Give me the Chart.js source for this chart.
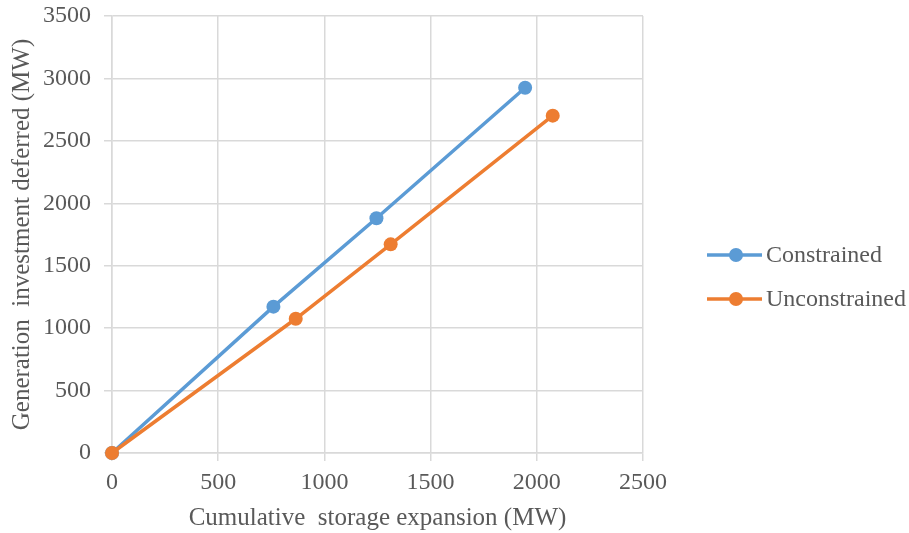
<!DOCTYPE html>
<html>
<head>
<meta charset="utf-8">
<script src="https://cdn.jsdelivr.net/npm/chart.js@4"></script>
<style>
    html, body { margin: 0; padding: 0; background: #fff; }
    #wrap { width: 909px; height: 533px; }
</style>
</head>
<body>
<div id="wrap"><canvas id="myChart" width="909" height="533"></canvas></div>
<script>
// Values
const seriesNames = ['Constrained', 'Unconstrained'];
const constrainedX = [0, 760, 1245, 1945];
const constrainedY = [0, 1172, 1880, 2925];
const unconstrainedX = [0, 865, 1312, 2075];
const unconstrainedY = [0, 1075, 1671, 2702];
const xTicks = [0, 500, 1000, 1500, 2000, 2500];
const yTicks = [0, 500, 1000, 1500, 2000, 2500, 3000, 3500];

const colors = ['#5b9bd5', '#ed7d31'];
const textColor = '#595959';
const gridColor = '#d9d9d9';
const fontFamily = '"Liberation Serif", "Times New Roman", serif';

const toPoints = (xs, ys) => xs.map((x, i) => ({ x: x, y: ys[i] }));

// Legend drawn by hand: line with a marker, like the original
const sideLegend = {
    id: 'sideLegend',
    afterDraw(chart) {
        const ctx = chart.ctx;
        ctx.save();
        chart.data.datasets.forEach((ds, i) => {
            const y = 255 + i * 44;
            ctx.strokeStyle = ds.borderColor;
            ctx.lineWidth = 3.5;
            ctx.beginPath();
            ctx.moveTo(707, y);
            ctx.lineTo(762, y);
            ctx.stroke();
            ctx.fillStyle = ds.backgroundColor;
            ctx.beginPath();
            ctx.arc(736, y, 7, 0, Math.PI * 2);
            ctx.fill();
            ctx.fillStyle = textColor;
            ctx.font = '24px ' + fontFamily;
            ctx.textBaseline = 'middle';
            ctx.textAlign = 'left';
            ctx.fillText(ds.label, 766, y + 1);
        });
        ctx.restore();
    }
};

const ctx = document.getElementById('myChart').getContext('2d');
new Chart(ctx, {
    type: 'scatter',
    data: {
        datasets: [
            {
                label: seriesNames[0],
                data: toPoints(constrainedX, constrainedY),
                showLine: true,
                clip: false,
                borderColor: colors[0],
                backgroundColor: colors[0],
                borderWidth: 3.5,
                pointRadius: 7,
                pointBorderWidth: 0,
                order: 1
            },
            {
                label: seriesNames[1],
                data: toPoints(unconstrainedX, unconstrainedY),
                showLine: true,
                clip: false,
                borderColor: colors[1],
                backgroundColor: colors[1],
                borderWidth: 3.5,
                pointRadius: 7,
                pointBorderWidth: 0,
                order: 0
            }
        ]
    },
    options: {
        responsive: false,
        animation: false,
        layout: { padding: { top: 16, right: 266, left: 0, bottom: 0 } },
        plugins: {
            legend: { display: false },
            tooltip: { enabled: false }
        },
        scales: {
            x: {
                type: 'linear',
                min: xTicks[0],
                max: xTicks[xTicks.length - 1],
                afterBuildTicks: s => { s.ticks = xTicks.map(v => ({ value: v })); },
                afterFit: s => { s.height = 80; s.paddingLeft = 0; s.paddingRight = 0; },
                grid: { color: gridColor, lineWidth: 1.5, tickLength: 8 },
                border: { color: gridColor, width: 1.5 },
                ticks: {
                    color: textColor, padding: 7,
                    font: { family: fontFamily, size: 24 },
                    callback: v => String(v)
                },
                title: {
                    display: true,
                    text: 'Cumulative  storage expansion (MW)',
                    color: textColor,
                    padding: { top: 0, bottom: 0 },
                    font: { family: fontFamily, size: 25 }
                }
            },
            y: {
                type: 'linear',
                min: yTicks[0],
                max: yTicks[yTicks.length - 1],
                afterBuildTicks: s => { s.ticks = yTicks.map(v => ({ value: v })); },
                afterFit: s => { s.width = 112; s.paddingTop = 0; s.paddingBottom = 0; },
                grid: { color: gridColor, lineWidth: 1.5, tickLength: 8 },
                border: { color: gridColor, width: 1.5 },
                ticks: {
                    color: textColor, padding: 13,
                    font: { family: fontFamily, size: 24 },
                    callback: v => String(v)
                },
                title: {
                    display: true,
                    text: 'Generation  investment deferred (MW)',
                    color: textColor,
                    padding: { top: 7, bottom: 0 },
                    font: { family: fontFamily, size: 25 }
                }
            }
        }
    },
    plugins: [sideLegend]
});
</script>
</body>
</html>
